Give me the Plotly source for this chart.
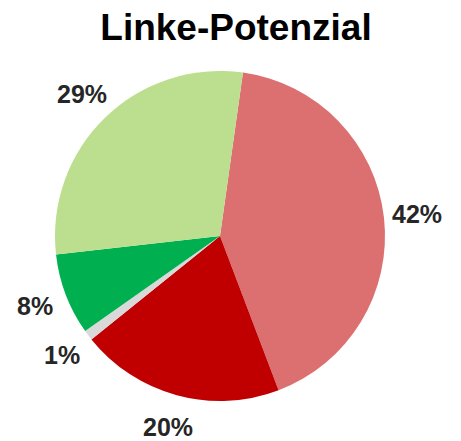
import math
import plotly.graph_objects as go

labels = ["A", "B", "C", "D", "E"]
values = [42, 20, 1, 8, 29]
colors = ["#DC7070", "#C00000", "#D9D9D9", "#00B050", "#BBDF8E"]
title_text = "Linke-Potenzial"

W, H = 461, 441
OFF = 8  # page body margin
cx, cy, R = 220 - OFF, 236 - OFF, 165
rotation = 8
label_r = 198

fig = go.Figure(go.Pie(
    labels=labels, values=values, sort=False, direction="clockwise",
    rotation=rotation, marker=dict(colors=colors, line=dict(width=0)),
    textinfo="none", hoverinfo="label+percent", showlegend=False,
    domain=dict(x=[(cx - R) / W, (cx + R) / W], y=[(H - cy - R) / H, (H - cy + R) / H]),
))

total = sum(values)
acc = 0
annotations = []
for v in values:
    mid = rotation + (acc + v / 2) / total * 360
    acc += v
    a = math.radians(mid)
    px = cx + label_r * math.sin(a)
    py = cy - label_r * math.cos(a)
    annotations.append(dict(
        x=px / W, y=1 - py / H, xref="paper", yref="paper",
        text=f"<b>{round(v / total * 100)}%</b>", showarrow=False,
        xanchor="center", yanchor="middle",
        font=dict(family="Liberation Sans, Arial", size=25, color="#262626"),
    ))

fig.update_layout(
    width=W, height=H, margin=dict(l=0, r=0, t=0, b=0),
    paper_bgcolor="white", plot_bgcolor="white",
    title=dict(text=f"<b>{title_text}</b>", x=(236 - OFF) / W, y=1 - (27 - OFF) / H,
               xanchor="center", yanchor="middle",
               font=dict(family="Liberation Sans, Arial", size=37, color="black")),
    annotations=annotations,
)
fig.write_html("out.html")
